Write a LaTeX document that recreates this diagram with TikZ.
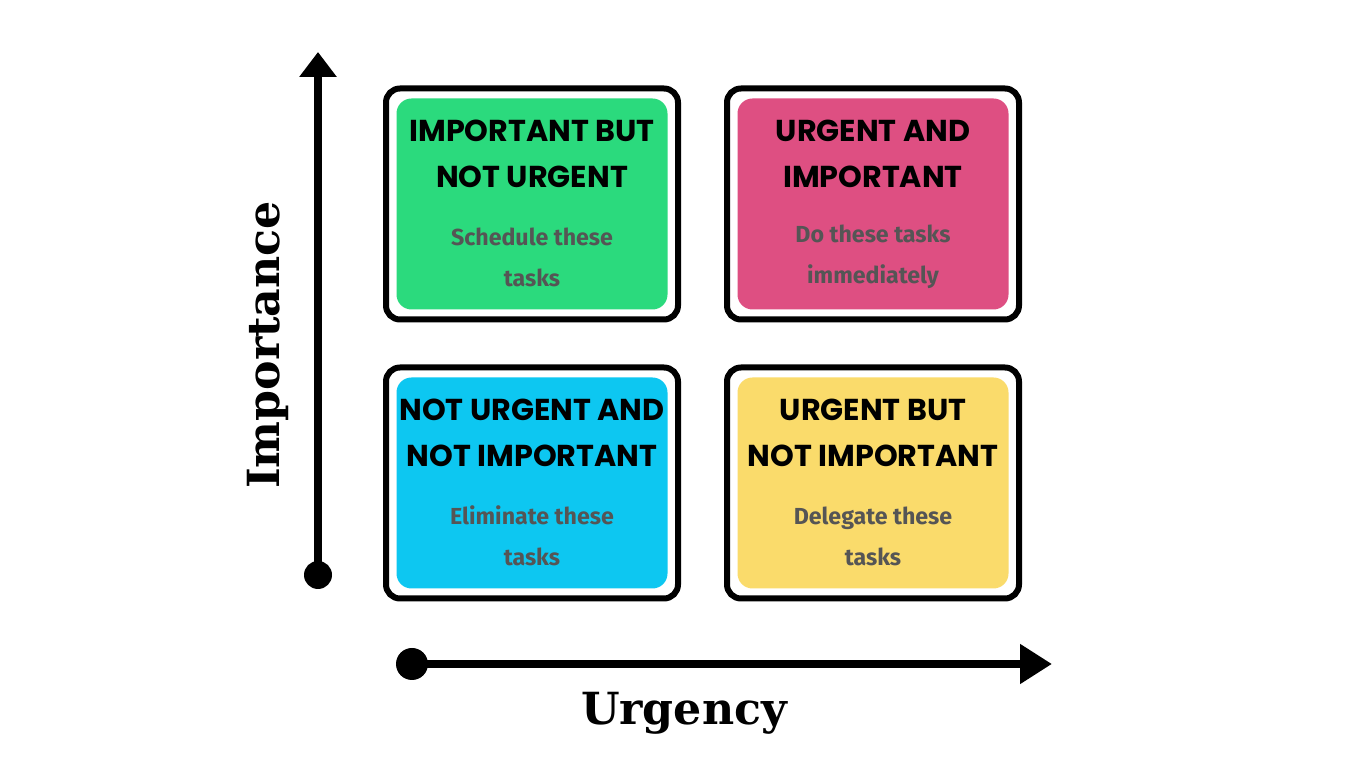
\documentclass[tikz,border=0pt]{standalone}
\usepackage{fontspec}
\usepackage{tikz}
\usetikzlibrary{arrows.meta}
\newfontfamily\headfont{Poppins}
\newfontfamily\notefont{Fira Sans}
\newfontfamily\axisfont{DejaVu Serif}
\definecolor{schedgreen}{HTML}{2BDA7D}
\definecolor{dopink}{HTML}{DE4F82}
\definecolor{elimcyan}{HTML}{0DC7F1}
\definecolor{delyellow}{HTML}{FADB6B}
\definecolor{notegray}{HTML}{555555}
\tikzstyle{frame}=[
	draw=black,
	line width=0.6mm,
	rounded corners=1.4mm,
	fill=white,
	minimum width=29.2mm,
	minimum height=23.1mm
]
\tikzstyle{panel}=[
	rounded corners=1.5mm,
	inner sep=0pt,
	minimum width=27.1mm,
	minimum height=21.1mm
]
\tikzstyle{head}=[
	align=center,
	inner sep=0pt,
	font=\headfont\bfseries\fontsize{8.6}{13.2}\selectfont
]
\tikzstyle{note}=[
	head,
	text=notegray,
	font=\notefont\bfseries\fontsize{6.6}{11.7}\selectfont
]
\tikzstyle{axis}=[
	draw=black,
	line width=0.75mm
]
\tikzstyle{dot}=[
	circle,
	fill=black,
	inner sep=0pt,
	minimum size=2.8mm
]
\tikzstyle{axislabel}=[
	inner sep=0pt,
	font=\axisfont\bfseries\fontsize{12.6}{14}\selectfont
]
\begin{document}
\begin{tikzpicture}[x=0.1mm, y=-0.1mm]
\useasboundingbox (0,0) rectangle (1366,768);

\foreach \q/\x/\y/\col/\head/\note in {
    tl/532/204/schedgreen/{IMPORTANT BUT\\NOT URGENT}/{Schedule these\\tasks},
    tr/873/204/dopink/{URGENT AND\\IMPORTANT}/{Do these tasks\\immediately},
    bl/532/483/elimcyan/{NOT URGENT AND\\NOT IMPORTANT}/{Eliminate these\\tasks},
    br/873/483/delyellow/{URGENT BUT\\NOT IMPORTANT}/{Delegate these\\tasks}}{
    \node[frame] (\q frame) at (\x, \y) {};
    \node[panel, fill=\col] (\q panel) at (\q frame) {};
    \node[head] (\q head) at ([yshift=5mm]\q panel.center) {\head};
    \node[note] (\q note) at ([yshift=-5.3mm]\q panel.center) {\note};
}

% importance axis
\node[dot] (vdot) at (318, 575) {};
\coordinate (vtip) at (318, 52);
\draw[axis, -{Triangle[width=3.6mm, length=2.5mm]}] (vdot.center) -- (vtip);
\node[axislabel, rotate=90] (implabel) at (268, 345) {Importance};

% urgency axis
\node[dot, minimum size=3.2mm] (hdot) at (412, 664) {};
\coordinate (htip) at (1052, 664);
\draw[axis, line width=0.8mm, -{Triangle[width=3.8mm, length=3.2mm]}] (hdot.center) -- (htip);
\node[axislabel] (urglabel) at (684, 713) {Urgency};

\end{tikzpicture}
\end{document}
